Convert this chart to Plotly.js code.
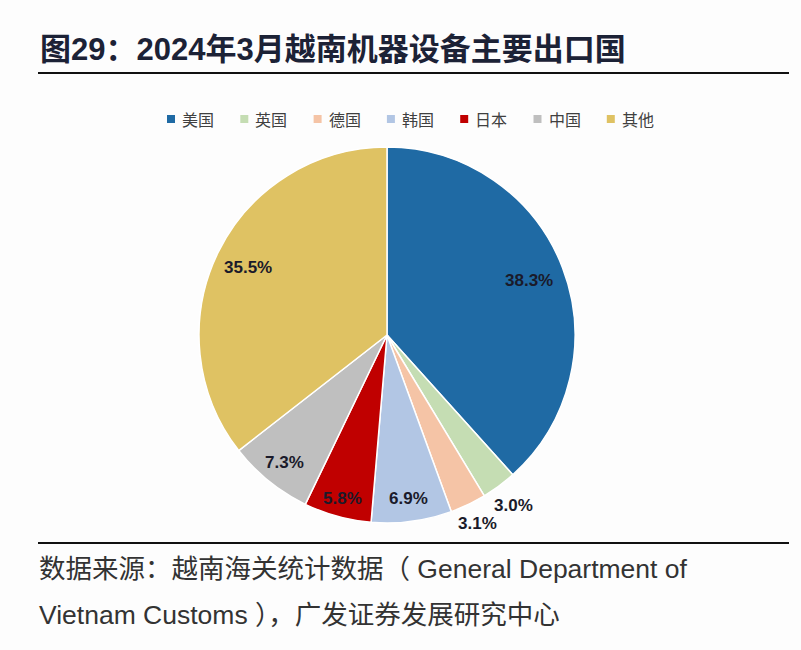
<!DOCTYPE html>
<html>
<head>
<meta charset="utf-8">
<script src="https://cdn.plot.ly/plotly-3.0.1.min.js"></script>
<style>html,body{margin:0;padding:0;background:#fdfdfd;}#chart{width:801px;height:650px;}</style>
</head>
<body>
<div id="chart"></div>
<script>
const categories = ['美国', '英国', '德国', '韩国', '日本', '中国', '其他'];
const shares = [38.3, 3.0, 3.1, 6.9, 5.8, 7.3, 35.5];

// style settings
const colors = ['#1f6aa4', '#c5ddb3', '#f5c4a6', '#b2c6e4', '#c00000', '#bfbfbf', '#dfc263'];
const labelRadius = [0.81, 1.13, 1.11, 0.88, 0.90, 0.87, 0.82];

const W = 801, H = 650;
const cx = 387, cy = 335, r = 188;
const px = x => x / W;
const py = y => (H - y) / H;

const trace = {
  type: 'pie',
  labels: categories,
  values: shares,
  sort: false,
  direction: 'clockwise',
  rotation: 0,
  marker: {colors: colors, line: {color: '#ffffff', width: 1.5}},
  textinfo: 'none',
  hoverinfo: 'label+value',
  domain: {x: [px(cx - r), px(cx + r)], y: [py(cy + r), py(cy - r)]},
  automargin: false,
  showlegend: false
};

const annotations = [
  {text: '<b>图29：2024年3月越南机器设备主要出口国</b>', xref: 'paper', yref: 'paper', x: px(38), y: py(50), xanchor: 'left', yanchor: 'middle', showarrow: false,
   font: {family: 'Liberation Sans, Noto Sans CJK SC, sans-serif', size: 31, color: '#1c2236'}},
  {text: '数据来源：越南海关统计数据（ General Department of', xref: 'paper', yref: 'paper', x: px(37), y: py(569), xanchor: 'left', yanchor: 'middle', showarrow: false,
   font: {family: 'Liberation Sans, Noto Sans CJK SC, sans-serif', size: 26.5, color: '#333333'}},
  {text: 'Vietnam Customs ），广发证券发展研究中心', xref: 'paper', yref: 'paper', x: px(37), y: py(615), xanchor: 'left', yanchor: 'middle', showarrow: false,
   font: {family: 'Liberation Sans, Noto Sans CJK SC, sans-serif', size: 26.5, color: '#333333'}}
];

// value labels, positioned from each slice's mid-angle
const total = shares.reduce((a, b) => a + b, 0);
let cum = 0;
shares.forEach((v, i) => {
  const mid = (cum + v / 2) / total * 2 * Math.PI;
  cum += v;
  const rr = r * labelRadius[i];
  annotations.push({
    text: '<b>' + v.toFixed(1) + '%</b>', xref: 'paper', yref: 'paper',
    x: px(cx + rr * Math.sin(mid)), y: py(cy - rr * Math.cos(mid)),
    xanchor: 'center', yanchor: 'middle', showarrow: false,
    font: {family: 'Liberation Sans, Arial, sans-serif', size: 17, color: '#1a1a2a'}
  });
});

// legend drawn as swatches + text
const shapes = [
  {type: 'line', xref: 'paper', yref: 'paper', x0: px(38), x1: px(789), y0: py(73), y1: py(73), line: {color: '#111111', width: 2}},
  {type: 'line', xref: 'paper', yref: 'paper', x0: px(38), x1: px(789), y0: py(543), y1: py(543), line: {color: '#111111', width: 2}}
];
categories.forEach((c, i) => {
  const x0 = 167 + i * 73.3;
  shapes.push({type: 'rect', xref: 'paper', yref: 'paper', x0: px(x0), x1: px(x0 + 8), y0: py(123), y1: py(115),
               fillcolor: colors[i], line: {width: 0}});
  annotations.push({text: c, xref: 'paper', yref: 'paper', x: px(x0 + 13), y: py(119), xanchor: 'left', yanchor: 'middle',
                    showarrow: false, font: {family: 'Noto Sans CJK SC, sans-serif', size: 16, color: '#404040'}});
});

const layout = {
  width: W, height: H,
  margin: {l: 0, r: 0, t: 0, b: 0},
  paper_bgcolor: '#fdfdfd',
  plot_bgcolor: '#fdfdfd',
  showlegend: false,
  shapes: shapes,
  annotations: annotations
};

Plotly.newPlot('chart', [trace], layout, {displayModeBar: false, staticPlot: true});
</script>
</body>
</html>
